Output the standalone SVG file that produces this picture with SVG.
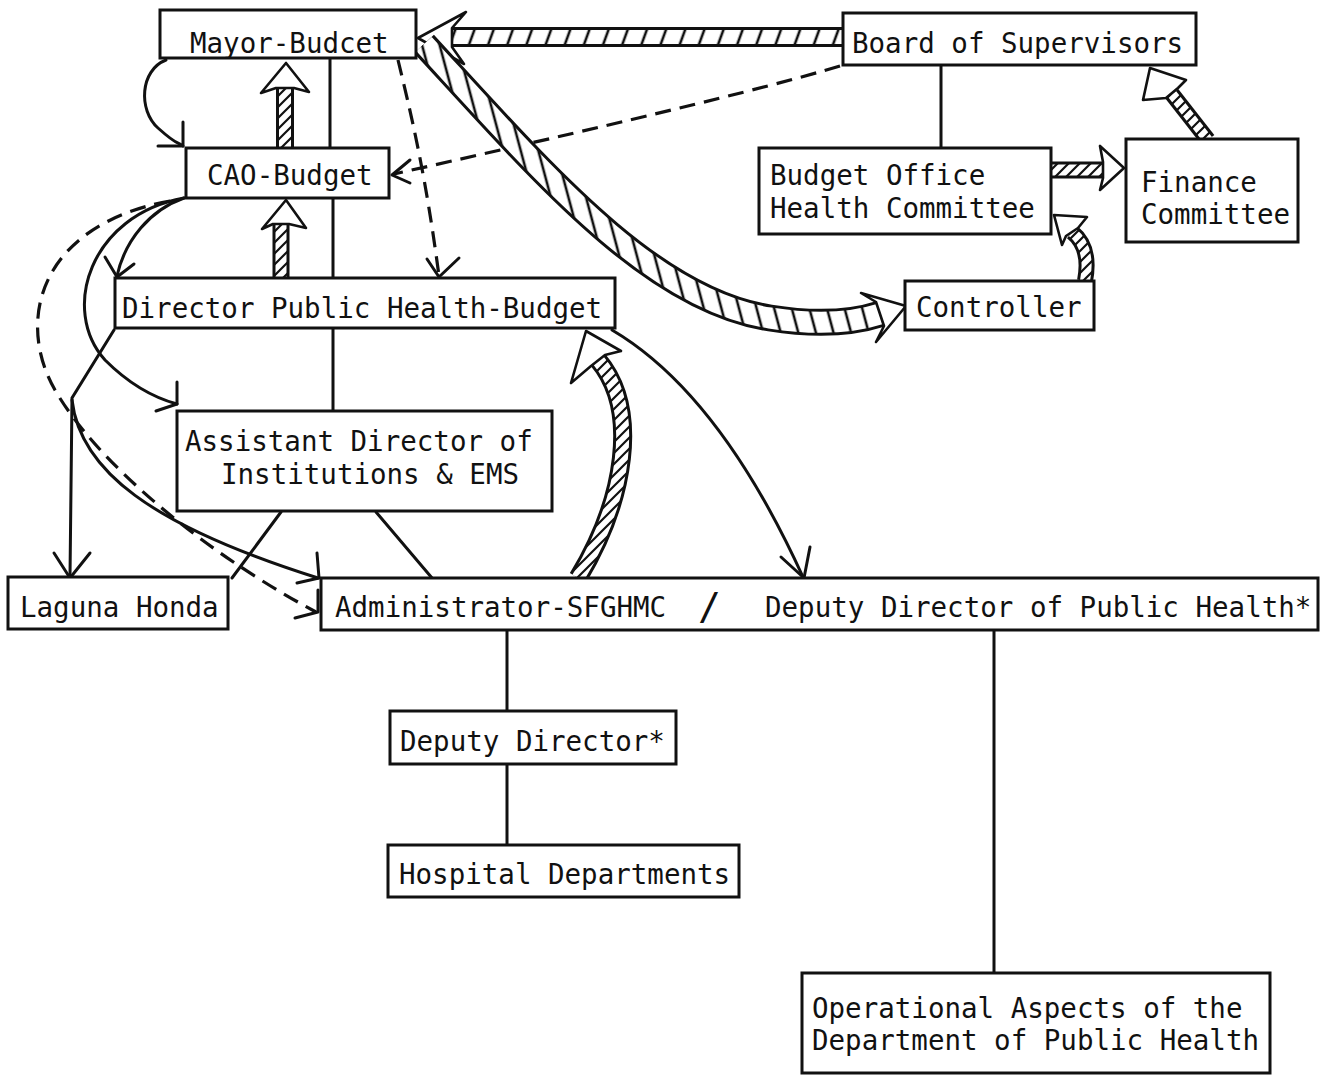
<svg xmlns="http://www.w3.org/2000/svg" width="1327" height="1081" viewBox="0 0 1327 1081">
<style>
.box{fill:#fff;stroke:#111;stroke-width:3}
.t{font-family:"DejaVu Sans Mono","Liberation Mono",monospace;font-size:27.5px;fill:#111}
.ln{fill:none;stroke:#111;stroke-width:3;stroke-linecap:round}
.dsh{fill:none;stroke:#111;stroke-width:3.2;stroke-dasharray:16 9}
.ah{fill:none;stroke:#111;stroke-width:3;stroke-linecap:round;stroke-linejoin:round}
.bo{fill:none;stroke:#111}
.bi{fill:none;stroke:url(#hatch)}
.bw{fill:none;stroke:url(#whatch)}
.bv{fill:none;stroke:url(#vhatch)}
.hh{fill:#fff;stroke:#111;stroke-width:2.6;stroke-linejoin:round}
</style>
<defs>
<pattern id="hatch" patternUnits="userSpaceOnUse" width="11" height="11">
<rect width="11" height="11" fill="#fff"/>
<path d="M-2,13 L13,-2 M-2,2 L2,-2 M9,13 L13,9" stroke="#111" stroke-width="2.2"/>
</pattern>
<pattern id="whatch" patternUnits="userSpaceOnUse" width="18" height="18" patternTransform="rotate(20)">
<rect width="18" height="18" fill="#fff"/>
<path d="M6,0 L6,18" stroke="#111" stroke-width="2.6"/>
</pattern>
<pattern id="vhatch" patternUnits="userSpaceOnUse" width="17" height="17" patternTransform="rotate(-15)">
<rect width="17" height="17" fill="#fff"/>
<path d="M5,0 L5,17" stroke="#111" stroke-width="2.6"/>
</pattern>
</defs>
<rect width="1327" height="1081" fill="#fff"/>
<g id="connectors">
<path class="ln" d="M330 58 L330 148"/>
<path class="ln" d="M333 198 L333 278"/>
<path class="ln" d="M333 328 L333 410"/>
<path class="ln" d="M281 512 L232 578"/>
<path class="ln" d="M376 512 L432 578"/>
<path class="ln" d="M507 630 L507 710"/>
<path class="ln" d="M507 764 L507 845"/>
<path class="ln" d="M994 630 L994 973"/>
<path class="ln" d="M941 65 L941 148"/>
<path class="ln" d="M166 60 C140 70,138 110,158 128 S178 142,183 146"/>
<path class="ah" d="M183 122 L183 146 L158 146"/>
<path class="ln" d="M184 198 C150 210,125 240,117 276"/>
<path class="ah" d="M105 257 L117 277 L134 264"/>
<path class="ln" d="M184 198 C90 215,60 310,105 360 C130 385,155 398,177 404"/>
<path class="ah" d="M177 382 L177 404 L156 411"/>
<path class="ln" d="M114 330 L72 398 L70 577"/>
<path class="ah" d="M54 553 L70 578 L90 553"/>
<path class="ln" d="M72 400 C80 470,150 525,318 578"/>
<path class="ah" d="M317 553 L319 578 L297 583"/>
<path class="ln" d="M612 330 C680 370,745 450,803 577"/>
<path class="ah" d="M781 557 L804 578 L810 547"/>
<path class="dsh" d="M170 201 C40 225,15 320,55 390 S200 550,316 612"/>
<path class="ah" d="M318 590 L318 612 L295 618"/>
<path class="dsh" d="M398 60 C410 110,425 170,439 276"/>
<path class="ah" d="M427 259 L439 277 L459 258"/>
<path class="dsh" d="M840 66 C760 90,600 128,394 174"/>
<path class="ah" d="M410 160 L392 175 L410 183"/>
<g id="h-board-mayor">
<path class="bo" stroke-width="20" d="M843 37 L450 37"/>
<path class="bw" stroke-width="14" d="M843 37 L450 37"/>
<polygon class="hh" points="418,38 466,12 452,28 452,47 464,64"/>
</g>
<g id="h-mayor-controller">
<path class="bo" stroke-width="27" d="M424 44 C540 170,650 300,770 318 C820 326,855 322,880 314"/>
<path class="bv" stroke-width="21" d="M424 44 C540 170,650 300,770 318 C820 326,855 322,880 314"/>
<polygon class="hh" points="906,306 861,293 876,302 884,326 876,342"/>
</g>
<g id="h-cao-mayor">
<path class="bo" stroke-width="18" d="M285 148 L285 88"/>
<path class="bi" stroke-width="12" d="M285 148 L285 88"/>
<polygon class="hh" points="286,63 261,93 276,88 294,88 309,92"/>
</g>
<g id="h-dir-cao">
<path class="bo" stroke-width="17" d="M281 278 L281 224"/>
<path class="bi" stroke-width="11" d="M281 278 L281 224"/>
<polygon class="hh" points="286,200 262,229 273,224 289,224 306,228"/>
</g>
<g id="h-admin-dir">
<path class="bo" stroke-width="19" d="M578 578 C625 500,640 410,598 360"/>
<path class="bi" stroke-width="13" d="M578 578 C625 500,640 410,598 360"/>
<polygon class="hh" points="586,331 621,351 605,355 591,366 571,383"/>
</g>
<g id="h-budget-finance">
<path class="bo" stroke-width="17" d="M1051 170 L1102 170"/>
<path class="bi" stroke-width="11" d="M1051 170 L1102 170"/>
<polygon class="hh" points="1124,168 1100,146 1103,162 1103,178 1100,190"/>
</g>
<g id="h-finance-board">
<path class="bo" stroke-width="16" d="M1208 140 L1172 94"/>
<path class="bi" stroke-width="10" d="M1208 140 L1172 94"/>
<polygon class="hh" points="1150,68 1186,80 1178,88 1166,98 1143,100"/>
</g>
<g id="h-controller-budget">
<path class="bo" stroke-width="16" d="M1085 281 C1090 255,1082 240,1072 232"/>
<path class="bi" stroke-width="10" d="M1085 281 C1090 255,1082 240,1072 232"/>
<polygon class="hh" points="1054,215 1087,217 1078,228 1066,236 1062,245"/>
</g>
</g>
<g id="nodes">
<g id="mayor"><rect class="box" x="160" y="10" width="256" height="48"/><text class="t" x="190" y="53">Mayor-Budcet</text></g>
<g id="board"><rect class="box" x="843" y="13" width="353" height="52"/><text class="t" x="852" y="53">Board of Supervisors</text></g>
<g id="cao"><rect class="box" x="186" y="148" width="203" height="50"/><text class="t" x="207" y="185">CAO-Budget</text></g>
<g id="budget-office"><rect class="box" x="759" y="148" width="292" height="86"/><text class="t" x="770" y="185">Budget Office</text><text class="t" x="770" y="218">Health Committee</text></g>
<g id="finance"><rect class="box" x="1126" y="139" width="172" height="103"/><text class="t" x="1141" y="192">Finance</text><text class="t" x="1141" y="224">Committee</text></g>
<g id="director"><rect class="box" x="115" y="278" width="500" height="50"/><text class="t" x="122" y="318">Director Public Health-Budget</text></g>
<g id="controller"><rect class="box" x="905" y="281" width="189" height="49"/><text class="t" x="916" y="317">Controller</text></g>
<g id="assistant"><rect class="box" x="177" y="411" width="375" height="100"/><text class="t" x="185" y="451">Assistant Director of</text><text class="t" x="221" y="484">Institutions &amp; EMS</text></g>
<g id="laguna"><rect class="box" x="8" y="577" width="220" height="52"/><text class="t" x="20" y="617">Laguna Honda</text></g>
<g id="admin-deputy"><rect class="box" x="321" y="578" width="997" height="52"/><text class="t" x="335" y="617">Administrator-SFGHMC</text><text class="t" x="698" y="619" style="font-size:38px">/</text><text class="t" x="765" y="617">Deputy Director of Public Health*</text></g>
<g id="deputy-director"><rect class="box" x="390" y="711" width="286" height="53"/><text class="t" x="400" y="751">Deputy Director*</text></g>
<g id="hospital"><rect class="box" x="388" y="845" width="351" height="52"/><text class="t" x="399" y="884">Hospital Departments</text></g>
<g id="operational"><rect class="box" x="802" y="973" width="468" height="100"/><text class="t" x="812" y="1018">Operational Aspects of the</text><text class="t" x="812" y="1050">Department of Public Health</text></g>
</g>
</svg>
